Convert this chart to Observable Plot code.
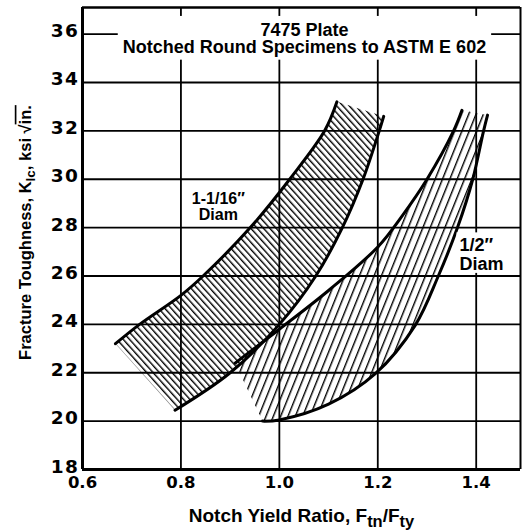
<!DOCTYPE html>
<html>
<head>
<meta charset="utf-8">
<script src="https://cdn.jsdelivr.net/npm/d3@7"></script>
<script src="https://cdn.jsdelivr.net/npm/@observablehq/plot@0.6"></script>
<style>
html, body { margin: 0; padding: 0; background: #fff; }
#chart svg { display: block; }
#chart [aria-label^="y-axis"] text { font-family: "DejaVu Sans", sans-serif; font-weight: bold; font-size: 18.5px; letter-spacing: 1.5px; }
#chart [aria-label^="x-axis"] text { font-family: "DejaVu Sans", sans-serif; font-weight: bold; font-size: 16.5px; }
</style>
</head>
<body>
<div id="chart"></div>
<script>
// ---- axes ----
const xDomain = [0.6, 1.49];
const yDomain = [18, 37.1];
const xTicks = [0.6, 0.8, 1.0, 1.2, 1.4];
const yTicks = [18, 20, 22, 24, 26, 28, 30, 32, 34, 36];
const xGrid = [0.8, 1.0, 1.2, 1.4];
const yGrid = [20, 22, 24, 26, 28, 30, 32, 34, 36];

// ---- 1-1/16" diameter scatter band ----
const band1UpperX = [0.667, 0.716, 0.800, 0.845, 0.941, 1.021, 1.092, 1.117];
const band1UpperY = [23.2, 24.0, 25.2, 26.0, 28.0, 30.0, 32.0, 33.2];
const band1LowerX = [0.788, 0.900, 1.000, 1.074, 1.128, 1.170, 1.203, 1.212];
const band1LowerY = [20.45, 22.0, 24.0, 26.0, 28.0, 30.0, 32.0, 32.6];

// ---- 1/2" diameter scatter band ----
const band2UpperX = [0.910, 1.000, 1.100, 1.200, 1.250, 1.300, 1.354, 1.371];
const band2UpperY = [22.4, 23.8, 25.4, 27.2, 28.5, 30.0, 32.0, 32.85];
const band2LowerX = [0.966, 1.000, 1.100, 1.195, 1.276, 1.323, 1.362, 1.393, 1.415, 1.423];
const band2LowerY = [20.0, 20.05, 20.7, 21.96, 23.96, 26.0, 28.0, 30.0, 32.0, 32.65];

// ---- texts ----
const titleText = "7475 Plate\nNotched Round Specimens to ASTM E 602";
const titleX = [1.051];
const titleY = [35.8];
const labelText = ["1-1/16″\nDiam", "1/2″\nDiam"];
const labelX = [0.876, 1.366];
const labelY = [28.85, 26.88];
const xLabel = "Notch Yield Ratio, Ftn/Fty";
const yLabel = "Fracture Toughness, KIc, ksi √in.";

const toPts = (xs, ys) => xs.map((x, i) => ({x, y: ys[i]}));
const b1u = toPts(band1UpperX, band1UpperY);
const b1l = toPts(band1LowerX, band1LowerY);
const b2u = toPts(band2UpperX, band2UpperY);
const b2l = toPts(band2LowerX, band2LowerY);
const outline = (upper, lower) => {
  const lr = lower.slice().reverse();
  return [upper[0], ...upper, upper[upper.length - 1], lr[0], ...lr, lr[lr.length - 1]];
};
const poly1 = outline(b1u, b1l);
const poly2 = outline(b2u, b2l);
const labels = labelText.map((t, i) => ({t, x: labelX[i], y: labelY[i]}));
const titleRow = [{t: titleText, x: titleX[0], y: titleY[0]}];

const curve = "catmull-rom";
const tag = name => () => name;
const plot = Plot.plot({
  width: 524,
  height: 532,
  marginTop: 7,
  marginBottom: 63,
  marginLeft: 82,
  marginRight: 4,
  style: {fontFamily: "'Liberation Sans', Arial, sans-serif", fontSize: "16px", color: "black", background: "white", overflow: "visible"},
  x: {domain: xDomain, ticks: xTicks, tickFormat: d => d.toFixed(1), tickSize: 0, tickPadding: 7, label: null},
  y: {domain: yDomain, ticks: yTicks, tickFormat: d => String(d), tickSize: 0, tickPadding: 3, label: null},
  marks: [
    Plot.ruleY(yGrid, {strokeWidth: 1.8}),
    Plot.ruleX(xGrid, {strokeWidth: 1.8}),
    Plot.line(poly1, {x: "x", y: "y", curve, fill: "url(#hatch1)", stroke: "none"}),
    Plot.line(poly2, {x: "x", y: "y", curve, fill: "url(#hatch2)", stroke: "none"}),
    Plot.line(b1u, {x: "x", y: "y", curve, strokeWidth: 3}),
    Plot.line(b1l, {x: "x", y: "y", curve, strokeWidth: 3}),
    Plot.line(b2u, {x: "x", y: "y", curve, strokeWidth: 3}),
    Plot.line(b2l, {x: "x", y: "y", curve, strokeWidth: 3}),
    Plot.ruleX([xDomain[0]], {strokeWidth: 3}),
    Plot.ruleX([xDomain[1]], {strokeWidth: 2}),
    Plot.ruleY([yDomain[0]], {strokeWidth: 3}),
    Plot.ruleY([yDomain[1]], {strokeWidth: 2.5}),
    Plot.text(titleRow, {x: "x", y: "y", text: "t", fontSize: 18, fontWeight: "bold", lineHeight: 0.93, ariaLabel: tag("title-text")}),
    Plot.text([labels[0]], {x: "x", y: "y", text: "t", fontSize: 16, fontWeight: "bold", lineHeight: 0.97, ariaLabel: tag("label-1")}),
    Plot.text([labels[1]], {x: "x", y: "y", text: "t", fontSize: 18, fontWeight: "bold", lineHeight: 1.03, textAnchor: "start", ariaLabel: tag("label-2")}),
    Plot.text([xLabel], {text: d => d, frameAnchor: "bottom", textAnchor: "middle", lineAnchor: "middle", dy: 46, fontSize: 19, fontWeight: "bold", ariaLabel: tag("x-label")}),
    Plot.text([yLabel], {text: d => d, frameAnchor: "left", textAnchor: "middle", lineAnchor: "middle", rotate: -90, dx: -57, dy: -6, fontSize: 16.5, fontWeight: "bold", ariaLabel: tag("y-label")})
  ]
});

plot.insertAdjacentHTML("afterbegin",
  '<defs>' +
  '<pattern id="hatch1" patternUnits="userSpaceOnUse" width="4.7" height="10" patternTransform="rotate(-42)"><rect x="0" y="0" width="1.4" height="10" fill="black"/></pattern>' +
  '<pattern id="hatch2" patternUnits="userSpaceOnUse" width="6.8" height="10" patternTransform="rotate(22)"><rect x="0" y="0" width="1.4" height="10" fill="black"/></pattern>' +
  '</defs>');

document.getElementById("chart").append(plot);

function textsFor(label) {
  const out = [];
  plot.querySelectorAll(`[aria-label="${label}"]`).forEach(el => {
    if (el.tagName.toLowerCase() === "text") out.push(el);
    else el.querySelectorAll("text").forEach(t => out.push(t));
  });
  return out;
}

// white boxes behind annotation text (as in the original)
function boxBehind(label, pt, pr, pb, pl) {
  textsFor(label).forEach(t => {
    const b = t.getBBox();
    const r = document.createElementNS("http://www.w3.org/2000/svg", "rect");
    r.setAttribute("x", b.x - pl);
    r.setAttribute("y", b.y - pt);
    r.setAttribute("width", b.width + pl + pr);
    r.setAttribute("height", b.height + pt + pb);
    r.setAttribute("fill", "white");
    const tr = t.getAttribute("transform");
    if (tr) r.setAttribute("transform", tr);
    t.parentNode.insertBefore(r, t);
  });
}
boxBehind("title-text", 4, 5, 3, 5);
boxBehind("label-2", 3, 4, -1, 3);

// subscripts and radical in axis titles
textsFor("x-label").forEach(t => {
  t.innerHTML = 'Notch Yield Ratio, F<tspan dy="5" font-size="16.5">tn</tspan><tspan dy="-5">/F</tspan><tspan dy="5" font-size="16.5">ty</tspan>';
});
textsFor("y-label").forEach(t => {
  t.innerHTML = 'Fracture Toughness, K<tspan dy="4" font-size="13.5">Ic</tspan><tspan dy="-4">, ksi √</tspan><tspan style="text-decoration: overline">in.</tspan>';
});

// y tick labels sit slightly below their grid lines
plot.querySelectorAll('[aria-label^="y-axis"] text').forEach(t => {
  t.setAttribute("y", (+t.getAttribute("y") || 0) + 3);
});
</script>
</body>
</html>
